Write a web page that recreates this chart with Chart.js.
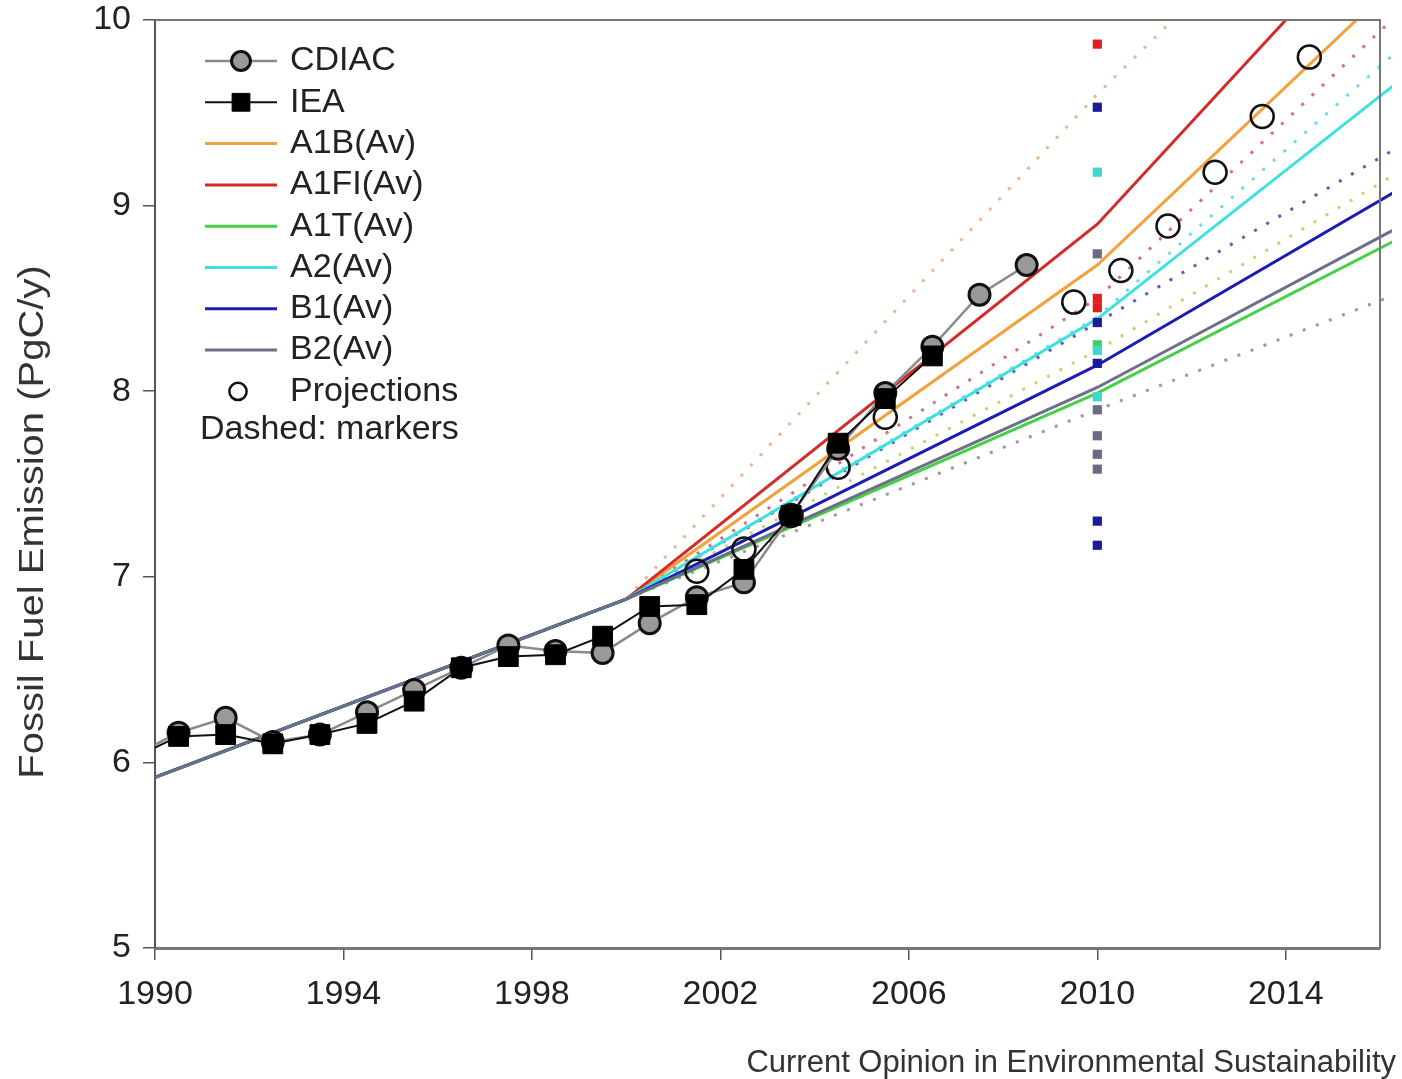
<!DOCTYPE html>
<html lang="en">
<head>
<meta charset="UTF-8">
<title>Fossil Fuel Emission</title>
<script src="https://cdn.jsdelivr.net/npm/chart.js"></script>
<style>
  html, body { margin: 0; padding: 0; background: #fff; }
  #wrap { width: 1402px; height: 1079px; }
</style>
</head>
<body>
<div id="wrap"><canvas id="chart" width="1402" height="1079"></canvas></div>
<script>
  // observed emissions (PgC/y), plotted at mid-year
  const obsYears = [1989, 1990, 1991, 1992, 1993, 1994, 1995, 1996, 1997, 1998, 1999,
                    2000, 2001, 2002, 2003, 2004, 2005, 2006, 2007, 2008];
  const cdiac = [6.03, 6.16, 6.24, 6.11, 6.15, 6.27, 6.39, 6.51, 6.63, 6.60, 6.59,
                 6.75, 6.89, 6.97, 7.33, 7.69, 7.99, 8.24, 8.52, 8.68];
  const iea   = [6.02, 6.14, 6.15, 6.10, 6.15, 6.21, 6.33, 6.51, 6.57, 6.58, 6.68,
                 6.84, 6.85, 7.04, 7.33, 7.72, 7.96, 8.19, null, null];

  // projections (open circles)
  const projYears  = [2001, 2002, 2003, 2004, 2005, 2009, 2010, 2011, 2012, 2013, 2014];
  const projValues = [7.03, 7.15, 7.33, 7.59, 7.86, 8.48, 8.65, 8.89, 9.18, 9.48, 9.80];

  // SRES scenario family averages
  const scenYears = [1990, 2000, 2010, 2020];
  const a1b  = [5.92, 6.88, 8.68, 11.08];
  const a1fi = [5.92, 6.88, 8.90, 11.65];
  const a1t  = [5.92, 6.88, 7.99, 9.29];
  const a2   = [5.92, 6.88, 8.39, 10.39];
  const b1   = [5.92, 6.88, 8.14, 9.62];
  const b2   = [5.92, 6.88, 8.02, 9.37];

  // SRES marker scenarios (dashed)
  const markerYears = [2000, 2010, 2020];
  const mA1b  = [6.88, 9.60, 12.10];
  const mA1fi = [6.88, 8.50, 10.90];
  const mA2   = [6.88, 8.40, 10.65];
  const mB1   = [6.88, 8.37, 9.85];
  const mA1t  = [6.88, 8.22, 9.72];
  const mB2   = [6.88, 7.90, 8.88];

  // individual scenario values in 2010
  const dotYear = 2010;
  const dotsA1fi = [9.87, 8.50, 8.45];
  const dotsB1   = [9.53, 8.37, 8.15, 7.30, 7.17];
  const dotsA2   = [9.18, 8.22, 7.97];
  const dotsB2   = [8.74, 7.90, 7.76, 7.66, 7.58];
  const dotsA1t  = [8.25];

  const xTickValues = [1990, 1994, 1998, 2002, 2006, 2010, 2014];
  const legendLabels = ['CDIAC', 'IEA', 'A1B(Av)', 'A1FI(Av)', 'A1T(Av)', 'A2(Av)', 'B1(Av)', 'B2(Av)', 'Projections'];

  const FONT = '"Liberation Sans", Arial, Helvetica, sans-serif';
  Chart.defaults.font.family = FONT;

  function pts(xs, ys, shift) {
    return xs.map((x, i) => ({ x: x + shift, y: ys[i] }));
  }
  function column(x, ys) {
    return ys.map(y => ({ x: x, y: y }));
  }

  function solid(label, color, values) {
    return {
      label: label, data: pts(scenYears, values, 0),
      borderColor: color, borderWidth: 3, pointRadius: 0, pointHoverRadius: 0,
      tension: 0, clip: { left: 0, top: 0, right: 12, bottom: 0 }
    };
  }
  function dashed(label, color, values) {
    return {
      label: label, data: pts(markerYears, values, 0),
      borderColor: color, borderWidth: 3, borderDash: [3, 11], pointRadius: 0, pointHoverRadius: 0,
      tension: 0, clip: { left: 0, top: 0, right: 12, bottom: 0 }
    };
  }
  function dots(label, color, values) {
    return {
      label: label, data: column(dotYear, values), showLine: false,
      pointStyle: 'rect', pointRadius: 6.5, pointBackgroundColor: color, pointBorderWidth: 0
    };
  }

  const datasets = [
    {
      label: 'IEA', data: pts(obsYears, iea, 0.5),
      borderColor: '#111', borderWidth: 2, tension: 0,
      pointStyle: 'rect', pointRadius: 14, pointBackgroundColor: '#000',
      pointBorderColor: '#000', pointBorderWidth: 1
    },
    {
      label: 'CDIAC', data: pts(obsYears, cdiac, 0.5),
      borderColor: '#8a8a8a', borderWidth: 2.5, tension: 0,
      pointStyle: 'circle', pointRadius: 10.5, pointBackgroundColor: '#999',
      pointBorderColor: '#111', pointBorderWidth: 3
    },
    {
      label: 'Projections', data: pts(projYears, projValues, 0.5), showLine: false,
      pointStyle: 'circle', pointRadius: 11.5, pointBackgroundColor: 'rgba(0,0,0,0)',
      pointBorderColor: '#111', pointBorderWidth: 2.5
    },
    dots('A1FI 2010', '#e02020', dotsA1fi),
    dots('B1 2010', '#1a1a9a', dotsB1),
    dots('A2 2010', '#40d8c8', dotsA2),
    dots('B2 2010', '#6a6a84', dotsB2),
    dots('A1T 2010', '#40d060', dotsA1t),
    solid('B2(Av)', '#6b7088', b2),
    solid('B1(Av)', '#1c1cb4', b1),
    solid('A2(Av)', '#3ee0e0', a2),
    solid('A1T(Av)', '#46d046', a1t),
    solid('A1FI(Av)', '#d42a2a', a1fi),
    solid('A1B(Av)', '#f2a23a', a1b),
    dashed('A1B marker', 'rgba(232,150,90,0.7)', mA1b),
    dashed('A1FI marker', 'rgba(200,60,90,0.75)', mA1fi),
    dashed('A2 marker', 'rgba(70,200,230,0.75)', mA2),
    dashed('B1 marker', 'rgba(40,40,140,0.75)', mB1),
    dashed('A1T marker', 'rgba(170,200,70,0.75)', mA1t),
    dashed('B2 marker', 'rgba(120,120,130,0.75)', mB2)
  ];

  const decorPlugin = {
    id: 'decor',
    afterDatasetsDraw(chart) {
      const ctx = chart.ctx;
      const a = chart.chartArea;
      ctx.save();
      ctx.strokeStyle = '#777';
      ctx.lineWidth = 2;
      ctx.beginPath();
      ctx.moveTo(a.left, a.top);
      ctx.lineTo(a.right, a.top);
      ctx.lineTo(a.right, a.bottom);
      ctx.stroke();
      ctx.restore();
    },
    afterDraw(chart) {
      const ctx = chart.ctx;
      ctx.save();

      // legend inside the plot
      ctx.font = '34px ' + FONT;
      ctx.textBaseline = 'middle';
      ctx.textAlign = 'left';
      legendLabels.forEach((lab, i) => {
        const ds = chart.data.datasets.find(d => d.label === lab);
        const y = 61 + i * 41.3;
        if (ds.showLine !== false) {
          ctx.strokeStyle = ds.borderColor;
          ctx.lineWidth = ds.borderWidth;
          ctx.setLineDash([]);
          ctx.beginPath();
          ctx.moveTo(205, y);
          ctx.lineTo(277, y);
          ctx.stroke();
        }
        if (ds.pointRadius) {
          ctx.fillStyle = ds.pointBackgroundColor;
          ctx.strokeStyle = ds.pointBorderColor;
          ctx.lineWidth = ds.pointBorderWidth;
          Chart.helpers.drawPoint(ctx, {
            pointStyle: ds.pointStyle, rotation: 0,
            radius: ds.pointRadius * (lab === 'Projections' ? 0.75 : 0.9),
            borderWidth: ds.pointBorderWidth
          }, lab === 'Projections' ? 238 : 241, y);
        }
        ctx.fillStyle = '#222';
        ctx.fillText(lab, 290, y);
      });
      ctx.fillText('Dashed: markers', 200, 430);

      // y axis title
      ctx.save();
      ctx.translate(33, 522);
      ctx.rotate(-Math.PI / 2);
      ctx.scale(1, 0.88);
      ctx.textAlign = 'center';
      ctx.font = '40px ' + FONT;
      ctx.fillStyle = '#333';
      ctx.fillText('Fossil Fuel Emission (PgC/y)', 0, 0);
      ctx.restore();

      // journal credit
      ctx.textAlign = 'right';
      ctx.font = '31px ' + FONT;
      ctx.fillStyle = '#333';
      ctx.fillText('Current Opinion in Environmental Sustainability', 1396, 1063);
      ctx.restore();
    }
  };

  new Chart(document.getElementById('chart'), {
    type: 'line',
    data: { datasets: datasets },
    plugins: [decorPlugin],
    options: {
      responsive: false,
      devicePixelRatio: 1,
      animation: false,
      events: [],
      layout: { padding: { top: 20, right: 22, left: 0, bottom: 0 } },
      plugins: { legend: { display: false }, tooltip: { enabled: false } },
      scales: {
        x: {
          type: 'linear', min: 1990, max: 2016,
          afterBuildTicks: s => { s.ticks = xTickValues.map(v => ({ value: v })); },
          afterFit: s => { s.height = 131; s.paddingLeft = 0; s.paddingRight = 0; },
          ticks: {
            callback: v => String(v), autoSkip: false, maxRotation: 0,
            font: { size: 34 }, color: '#222', padding: 14
          },
          grid: { drawOnChartArea: false, tickLength: 12, color: '#555', lineWidth: 1.5 },
          border: { color: '#777', width: 3 }
        },
        y: {
          min: 5, max: 10,
          afterFit: s => { s.width = 155; s.paddingTop = 0; s.paddingBottom = 0; },
          ticks: { stepSize: 1, font: { size: 34 }, color: '#222', padding: 12 },
          grid: { drawOnChartArea: false, tickLength: 12, color: '#555', lineWidth: 1.5 },
          border: { color: '#555', width: 2 }
        }
      }
    }
  });
</script>
</body>
</html>
